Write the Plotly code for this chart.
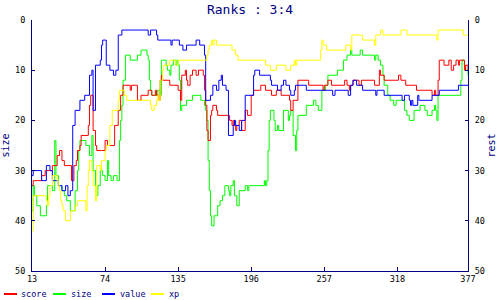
import plotly.graph_objects as go

# ---- data (day, rank) at change points; rank holds until next point ----
score_x = [13,14,21,24,30,34,36,38,40,46,48,50,51,53,54,60,61,62,64,66,67,71,74,76,82,85,87,89,95,96,101,104,110,113,116,117,119,120,121,122,128,135,137,138,141,142,143,145,147,150,152,156,157,158,159,160,162,163,164,167,168,178,180,181,182,183,184,186,188,191,193,196,198,204,208,210,213,217,221,228,229,231,235,244,256,257,260,263,274,276,278,279,281,286,288,299,303,304,307,319,321,325,334,347,349,350,352,353,357,361,363,365,367,369,370,374,375,377]
score_y = [33,32,31,30,29,27,26,28,29,32,29,28,26,25,23,21,17,15,22,25,26,26,24,25,21,18,15,13,14,13,16,15,14,15,14,15,16,12,11,12,13,14,16,11,10,12,13,11,10,11,10,11,14,17,22,24,19,18,17,18,19,20,21,20,21,22,21,20,22,18,19,15,14,13,14,14,15,14,15,16,18,16,12,13,14,13,12,13,12,13,14,13,12,13,12,13,10,11,12,11,12,13,14,15,14,15,12,8,9,8,10,9,8,9,8,10,9,10]

size_x = [13,14,15,17,20,25,26,30,32,33,35,38,40,42,45,49,51,52,53,58,61,63,64,66,68,70,72,74,76,77,79,81,84,86,87,88,89,91,95,101,104,109,110,111,112,113,118,120,121,125,126,128,129,131,133,134,135,136,137,138,142,147,150,154,157,158,159,160,161,162,163,165,168,170,172,174,177,178,179,181,182,184,186,191,193,194,207,208,209,210,211,212,215,216,218,219,223,227,228,229,231,233,234,235,242,248,250,252,255,258,260,268,273,276,279,280,287,289,299,300,302,304,306,307,310,312,315,317,322,324,326,328,332,337,341,343,347,349,350,351,352,371,372,374,375,377]
size_y = [38,33,35,37,39,37,33,34,24,31,33,34,35,36,38,34,30,26,24,25,27,23,30,35,33,30,31,32,28,31,32,31,32,24,20,17,12,7,8,7,6,7,8,12,14,15,14,15,8,9,10,11,9,8,9,8,9,12,18,17,16,15,15,16,17,18,20,28,34,39,41,39,37,36,35,33,34,35,33,32,35,37,34,33,34,33,32,33,32,26,20,18,20,22,21,22,18,20,19,18,23,26,22,19,17,16,17,18,14,13,11,10,8,7,6,7,6,7,8,7,8,9,11,13,15,16,17,16,16,18,19,20,18,17,18,19,18,17,18,20,15,12,8,9,10,11,11]

value_x = [13,14,21,25,28,30,35,38,41,43,45,47,49,53,57,61,63,64,66,70,71,72,75,78,81,83,85,88,110,112,116,117,118,129,130,136,139,142,150,153,157,158,162,164,167,169,171,172,175,177,181,182,183,186,188,191,198,199,203,212,213,218,221,223,225,228,229,232,233,242,264,266,277,279,281,284,289,300,301,307,322,324,328,329,330,331,335,336,347,353,369,377]
value_y = [31,30,32,29,30,32,33,34,33,35,34,21,18,16,15,11,10,18,9,8,5,4,9,10,11,10,3,2,3,2,2,3,4,5,4,5,6,5,4,5,7,16,15,13,14,12,11,13,14,23,21,20,21,22,20,15,11,10,11,12,13,14,13,12,13,14,15,14,13,14,15,14,15,13,12,13,14,15,14,15,16,15,16,17,16,17,15,16,15,14,13,13]

xp_x = [13,14,25,26,27,28,30,34,35,36,37,38,39,41,45,49,51,58,59,60,61,63,64,66,67,70,71,74,75,78,80,85,86,90,92,111,112,113,115,117,118,119,120,122,123,128,133,135,159,160,161,163,164,165,167,180,183,185,208,212,217,225,229,232,233,234,254,255,256,259,275,277,279,280,289,299,300,304,306,321,326,351,352,373,377]
xp_y = [42,35,36,37,35,33,31,32,33,34,36,37,38,40,38,37,36,38,33,30,28,30,33,36,29,30,28,26,25,21,18,16,14,15,16,16,17,18,17,16,15,16,12,10,9,8,9,8,7,6,5,4,5,4,5,6,7,8,9,10,9,10,9,8,9,8,6,4,5,6,5,5,6,3,4,5,3,2,3,2,3,4,2,3,3]

series = [
    ("score", score_x, score_y, "#ff0000", "y2"),
    ("size", size_x, size_y, "#00ff00", "y"),
    ("value", value_x, value_y, "#0000ff", "y2"),
    ("xp", xp_x, xp_y, "#ffff00", "y2"),
]

x_ticks = [13, 74, 135, 196, 257, 318, 377]
y_ticks = [0, 10, 20, 30, 40, 50]

NAVY = "#000080"
MONO = "DejaVu Sans Mono"

fig = go.Figure()
for name, xs, ys, col, ax in series:
    fig.add_trace(go.Scatter(x=xs, y=ys, name=name, mode="lines",
                             line=dict(color=col, width=1, shape="hv"),
                             yaxis=ax, showlegend=False))

# plot area geometry (pixels)
L, R, T, B = 32, 468, 20, 271
W, H = R - L, B - T

def px2paper_x(px):
    return (px - L) / W

def py2paper_y(py):
    return (B - py) / H

# custom legend
leg_y = py2paper_y(294)
leg_pos = [(4, 19), (53, 69), (102, 118), (151, 167)]
shapes = []
annotations = []
for (name, _, _, col, _), (lx, tx) in zip(series, leg_pos):
    shapes.append(dict(type="line", xref="paper", yref="paper",
                       x0=px2paper_x(lx), x1=px2paper_x(lx + 13),
                       y0=leg_y, y1=leg_y, line=dict(color=col, width=2)))
    annotations.append(dict(text=name, xref="paper", yref="paper",
                            x=px2paper_x(tx), y=leg_y, xanchor="left",
                            yanchor="middle", showarrow=False,
                            font=dict(family=MONO, size=8.5, color=NAVY)))

axis_common = dict(showgrid=False, zeroline=False, showline=True,
                   linecolor=NAVY, linewidth=1, ticks="inside",
                   tickcolor=NAVY, tickfont=dict(family=MONO, size=8.5, color="black"))

fig.update_layout(
    width=500, height=300,
    margin=dict(l=L, r=500 - R, t=T, b=300 - B, autoexpand=False),
    paper_bgcolor="white", plot_bgcolor="white",
    title=dict(text="Ranks : 3:4", x=0.5, xanchor="center", y=1 - 9 / 300,
               yanchor="middle", font=dict(family=MONO, size=13, color=NAVY)),
    xaxis=dict(range=[13, 377], tickvals=x_ticks, ticklen=4, **axis_common),
    yaxis=dict(range=[50, 0], tickvals=y_ticks, ticklen=3,
               title=dict(text="size", standoff=4,
                          font=dict(family=MONO, size=10, color=NAVY)),
               ticklabelstandoff=4, **axis_common),
    yaxis2=dict(range=[50, 0], tickvals=y_ticks, ticklen=3, side="right",
                overlaying="y",
                title=dict(text="rest", standoff=4,
                           font=dict(family=MONO, size=10, color=NAVY)),
                ticklabelstandoff=4, **axis_common),
    shapes=shapes, annotations=annotations,
)

fig.write_html("out.html")
